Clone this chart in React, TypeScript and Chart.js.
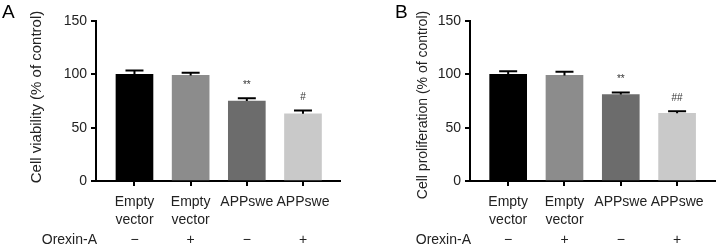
import React, { useEffect, useRef } from "react";
import { Chart, registerables } from "chart.js";

Chart.register(...registerables);

const groupLabels: string[][] = [["Empty", "vector"], ["Empty", "vector"], ["APPswe"], ["APPswe"]];
const orexinSigns: string[] = ["\u2212", "+", "\u2212", "+"];
const barColors: string[] = ["#000000", "#8c8c8c", "#6c6c6c", "#c9c9c9"];
const yTicks: number[] = [0, 50, 100, 150];

const viabilityMeans: number[] = [100, 99, 75, 63];
const viabilityErrors: number[] = [3.5, 2.5, 2.5, 3];
const viabilityMarks: string[] = ["", "", "**", "#"];

const proliferationMeans: number[] = [100, 99, 81, 63.5];
const proliferationErrors: number[] = [3, 3.5, 2, 2];
const proliferationMarks: string[] = ["", "", "**", "##"];

const FONT = "'Liberation Sans', Arial, Helvetica, sans-serif";

type PanelCfg = {
  letter: string;
  title: string;
  titleSize: number;
  titleX: number;
  titleY: number;
  means: number[];
  errors: number[];
  marks: string[];
  axisLeft: number;
  padRight: number;
  xMin: number;
  xMax: number;
  width: number;
};

function makeChart(canvas: HTMLCanvasElement, p: PanelCfg) {
  const overlay = {
    id: "overlay",
    afterDatasetsDraw(chart: any) {
      const ctx = chart.ctx;
      const xs = chart.scales.x;
      const ys = chart.scales.y;
      ctx.save();
      ctx.strokeStyle = "#000";
      ctx.lineWidth = 2;
      p.means.forEach((m, i) => {
        const x = xs.getPixelForValue(i);
        const yTop = ys.getPixelForValue(m + p.errors[i]);
        const yMid = ys.getPixelForValue(m);
        ctx.beginPath();
        ctx.moveTo(x, yMid);
        ctx.lineTo(x, yTop);
        ctx.moveTo(x - 9, yTop);
        ctx.lineTo(x + 9, yTop);
        ctx.stroke();
        if (p.marks[i]) {
          ctx.fillStyle = "#333";
          ctx.font = `10px ${FONT}`;
          ctx.textAlign = "center";
          ctx.textBaseline = "middle";
          ctx.fillText(p.marks[i], x, yTop - 13);
        }
      });
      ctx.restore();
    },
    afterDraw(chart: any) {
      const ctx = chart.ctx;
      const xs = chart.scales.x;
      ctx.save();
      ctx.fillStyle = "#222";
      ctx.textBaseline = "middle";
      ctx.font = `14px ${FONT}`;
      ctx.textAlign = "right";
      ctx.fillText("Orexin-A", chart.chartArea.left + 1, 240);
      ctx.textAlign = "center";
      orexinSigns.forEach((s, i) => {
        ctx.fillText(s, xs.getPixelForValue(i), 240);
      });
      ctx.fillStyle = "#000";
      ctx.font = `19px ${FONT}`;
      ctx.textAlign = "left";
      ctx.textBaseline = "top";
      ctx.fillText(p.letter, p.letter === "A" ? 2 : 37, 3);
      ctx.fillStyle = "#222";
      ctx.font = `${p.titleSize}px ${FONT}`;
      ctx.translate(p.titleX, p.titleY);
      ctx.rotate(-Math.PI / 2);
      ctx.textAlign = "center";
      ctx.textBaseline = "middle";
      ctx.fillText(p.title, 0, 0);
      ctx.restore();
    },
  };

  return new Chart(canvas, {
    type: "bar",
    data: {
      datasets: [
        {
          data: p.means.map((v, i) => ({ x: i, y: v })),
          backgroundColor: barColors,
          borderWidth: 0,
          barThickness: 37,
        } as any,
      ],
    },
    options: {
      animation: false,
      responsive: false,
      devicePixelRatio: 1,
      layout: { padding: { top: 21, right: p.padRight, bottom: 0, left: 0 } },
      plugins: { legend: { display: false }, tooltip: { enabled: false }, title: { display: false } },
      scales: {
        x: {
          type: "linear",
          offset: false,
          min: p.xMin,
          max: p.xMax,
          afterBuildTicks: (s: any) => {
            s.ticks = groupLabels.map((_, i) => ({ value: i }));
          },
          afterFit: (s: any) => {
            s.height = 67;
          },
          ticks: {
            autoSkip: false,
            maxRotation: 0,
            padding: 7,
            color: "#222",
            font: { family: FONT, size: 14, lineHeight: 1.3 },
            callback: (_v: any, i: number) => groupLabels[i],
          },
          grid: { offset: false, drawOnChartArea: false, tickLength: 5, color: "#000", lineWidth: 2 },
          border: { display: true, color: "#000", width: 2 },
        },
        y: {
          type: "linear",
          min: 0,
          max: 150,
          afterBuildTicks: (s: any) => {
            s.ticks = yTicks.map((v) => ({ value: v }));
          },
          afterFit: (s: any) => {
            s.width = p.axisLeft;
          },
          ticks: {
            padding: 4,
            color: "#222",
            font: { family: FONT, size: 14 },
          },
          grid: { drawOnChartArea: false, tickLength: 5, color: "#000", lineWidth: 2 },
          border: { display: true, color: "#000", width: 2 },
        },
      },
    },
    plugins: [overlay],
  });
}

function Panel({ cfg }: { cfg: PanelCfg }) {
  const ref = useRef<HTMLCanvasElement>(null);
  useEffect(() => {
    if (!ref.current) return;
    const c = makeChart(ref.current, cfg);
    return () => c.destroy();
  }, []);
  return <canvas ref={ref} width={cfg.width} height={248} style={{ display: "block", width: cfg.width, height: 248 }} />;
}

const panelA: PanelCfg = {
  letter: "A",
  title: "Cell viability (% of control)",
  titleSize: 15,
  titleX: 37,
  titleY: 97,
  means: viabilityMeans,
  errors: viabilityErrors,
  marks: viabilityMarks,
  axisLeft: 96,
  padRight: 18,
  xMin: -0.685,
  xMax: 3.659,
  width: 358,
};

const panelB: PanelCfg = {
  letter: "B",
  title: "Cell proliferation (% of control)",
  titleSize: 14,
  titleX: 65,
  titleY: 105,
  means: proliferationMeans,
  errors: proliferationErrors,
  marks: proliferationMarks,
  axisLeft: 112,
  padRight: 0,
  xMin: -0.678,
  xMax: 3.691,
  width: 358,
};

export default function App() {
  return (
    <div style={{ position: "absolute", left: 0, top: 0, width: 716, height: 248, display: "flex", background: "#fff" }}>
      <Panel cfg={panelA} />
      <Panel cfg={panelB} />
    </div>
  );
}
